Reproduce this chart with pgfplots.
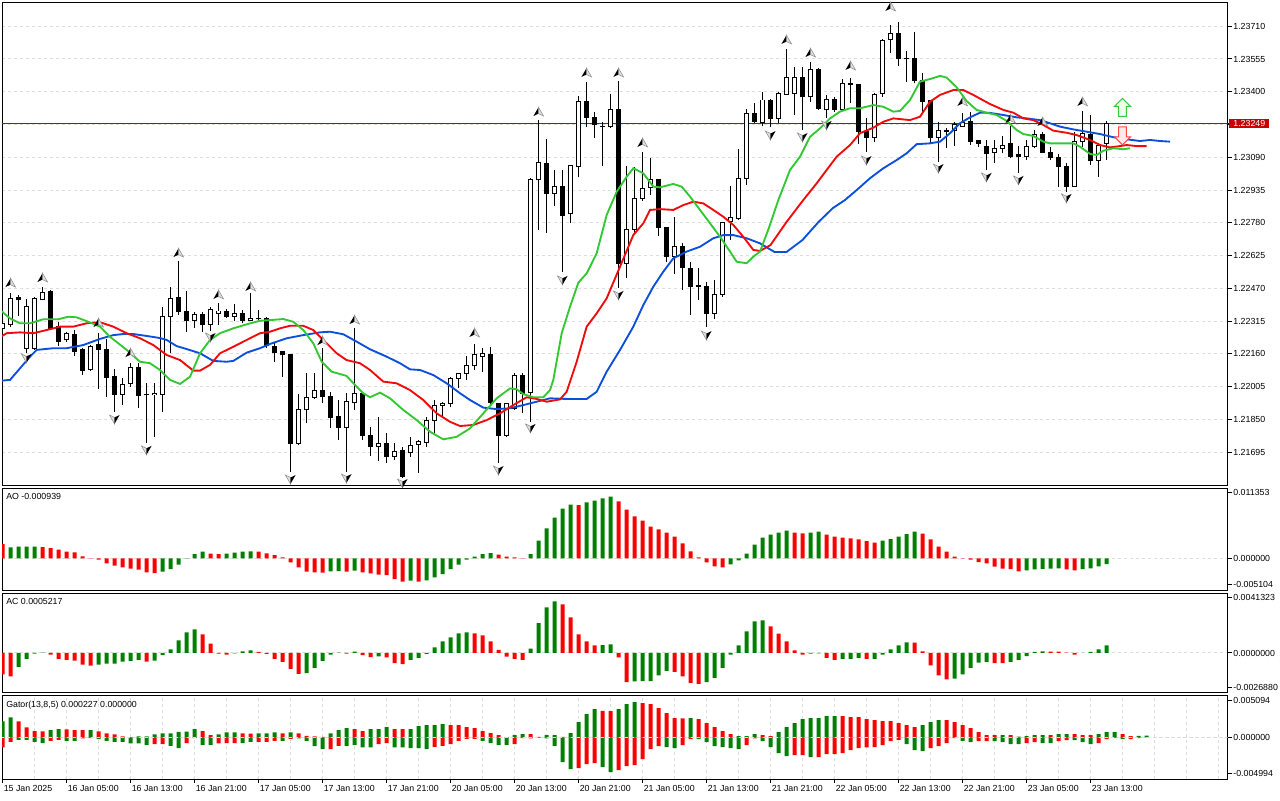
\documentclass[border=0pt]{standalone}
\usepackage{fontspec}
\setmainfont{Liberation Sans}
\usepackage{pgfplots}
\usepackage{pgfplotstable}
\pgfplotsset{compat=1.18}
\definecolor{jaw}{RGB}{10,80,220}
\definecolor{teeth}{RGB}{240,10,10}
\definecolor{lips}{RGB}{50,200,50}
\definecolor{hgreen}{RGB}{0,128,0}
\definecolor{hred}{RGB}{255,0,0}
\definecolor{gridc}{RGB}{221,221,221}
\definecolor{bidred}{RGB}{200,0,0}
\definecolor{sgreen}{RGB}{60,200,60}
\definecolor{sgreenf}{RGB}{235,255,235}
\definecolor{sred}{RGB}{255,70,70}
\definecolor{sredf}{RGB}{255,235,235}

\pgfdeclareplotmark{fup}{%
  \pgfpathmoveto{\pgfqpoint{0pt}{3.6pt}}\pgfpathlineto{\pgfqpoint{-3.8pt}{-3pt}}\pgfpathlineto{\pgfqpoint{0pt}{-1.2pt}}\pgfpathclose
  \pgfsetfillcolor{black}\pgfusepath{fill}%
  \pgfpathmoveto{\pgfqpoint{0pt}{3.6pt}}\pgfpathlineto{\pgfqpoint{3.8pt}{-3pt}}\pgfpathlineto{\pgfqpoint{0pt}{-1.2pt}}\pgfpathclose
  \pgfsetfillcolor{black!12}\pgfsetstrokecolor{black!45}\pgfsetlinewidth{0.4pt}\pgfusepath{fill,stroke}}
\pgfdeclareplotmark{fdown}{%
  \pgfpathmoveto{\pgfqpoint{0pt}{-3.6pt}}\pgfpathlineto{\pgfqpoint{-3.8pt}{3pt}}\pgfpathlineto{\pgfqpoint{0pt}{1.2pt}}\pgfpathclose
  \pgfsetfillcolor{black!12}\pgfsetstrokecolor{black!45}\pgfsetlinewidth{0.4pt}\pgfusepath{fill,stroke}%
  \pgfpathmoveto{\pgfqpoint{0pt}{-3.6pt}}\pgfpathlineto{\pgfqpoint{3.8pt}{3pt}}\pgfpathlineto{\pgfqpoint{0pt}{1.2pt}}\pgfpathclose
  \pgfsetfillcolor{black}\pgfusepath{fill}}
\pgfdeclareplotmark{sigup}{%
  \pgfpathmoveto{\pgfqpoint{0pt}{6.75pt}}\pgfpathlineto{\pgfqpoint{-6pt}{0.75pt}}\pgfpathlineto{\pgfqpoint{-2.9pt}{0.75pt}}%
  \pgfpathlineto{\pgfqpoint{-2.9pt}{-6.75pt}}\pgfpathlineto{\pgfqpoint{2.9pt}{-6.75pt}}\pgfpathlineto{\pgfqpoint{2.9pt}{0.75pt}}%
  \pgfpathlineto{\pgfqpoint{6pt}{0.75pt}}\pgfpathclose\pgfusepathqfillstroke}
\pgfdeclareplotmark{sigdown}{%
  \pgfpathmoveto{\pgfqpoint{0pt}{-6.75pt}}\pgfpathlineto{\pgfqpoint{-6pt}{-0.75pt}}\pgfpathlineto{\pgfqpoint{-2.9pt}{-0.75pt}}%
  \pgfpathlineto{\pgfqpoint{-2.9pt}{6.75pt}}\pgfpathlineto{\pgfqpoint{2.9pt}{6.75pt}}\pgfpathlineto{\pgfqpoint{2.9pt}{-0.75pt}}%
  \pgfpathlineto{\pgfqpoint{6pt}{-0.75pt}}\pgfpathclose\pgfusepathqfillstroke}

\pgfplotstableread{
i o h l c
0 1.22278 1.22306 1.22273 1.22302
1 1.22300 1.22447 1.22289 1.22423
3 1.22187 1.22420 1.22166 1.22383
4 1.22187 1.22431 1.22179 1.22420
5 1.22418 1.22478 1.22415 1.22451
8 1.22226 1.22264 1.22216 1.22258
11 1.22084 1.22202 1.22079 1.22197
15 1.21969 1.22045 1.21918 1.22016
16 1.22021 1.22118 1.22005 1.22095
19 1.21967 1.22021 1.21768 1.21972
20 1.21969 1.22383 1.21884 1.22339
21 1.22339 1.22478 1.22163 1.22423
24 1.22317 1.22360 1.22281 1.22347
26 1.22300 1.22383 1.22268 1.22371
27 1.22352 1.22399 1.22297 1.22363
29 1.22339 1.22396 1.22317 1.22352
31 1.22320 1.22447 1.22317 1.22328
37 1.21737 1.21969 1.21729 1.21895
38 1.21895 1.22068 1.21832 1.21955
39 1.21955 1.22068 1.21947 1.21989
43 1.21811 1.21977 1.21603 1.21937
44 1.21929 1.22281 1.21895 1.21974
47 1.21721 1.21863 1.21655 1.21737
49 1.21674 1.21740 1.21658 1.21697
51 1.21693 1.21768 1.21672 1.21726
52 1.21732 1.21753 1.21598 1.21745
53 1.21740 1.21860 1.21721 1.21844
54 1.21844 1.21942 1.21776 1.21918
55 1.21917 1.21934 1.21855 1.21926
56 1.21926 1.22052 1.21910 1.22045
57 1.22045 1.22071 1.21997 1.22068
58 1.22068 1.22150 1.22037 1.22103
59 1.22103 1.22207 1.22084 1.22155
60 1.22150 1.22187 1.22076 1.22163
63 1.21776 1.21929 1.21768 1.21926
64 1.21903 1.22068 1.21895 1.22056
66 1.21977 1.22991 1.21839 1.22983
67 1.22983 1.23266 1.22746 1.23066
69 1.22920 1.23030 1.22861 1.22951
71 1.22822 1.23054 1.22781 1.23049
72 1.23046 1.23380 1.22995 1.23356
75 1.23235 1.23258 1.23049 1.23238
76 1.23235 1.23389 1.23229 1.23317
78 1.22589 1.23049 1.22518 1.22749
79 1.22749 1.23046 1.22731 1.22896
80 1.22896 1.23116 1.22885 1.22943
81 1.22946 1.23085 1.22912 1.22983
84 1.22620 1.22809 1.22537 1.22667
87 1.22480 1.22565 1.22415 1.22483
89 1.22352 1.22510 1.22324 1.22442
90 1.22442 1.22785 1.22431 1.22781
91 1.22785 1.22954 1.22699 1.22806
92 1.22801 1.23128 1.22793 1.22991
93 1.22991 1.23317 1.22959 1.23298
95 1.23254 1.23400 1.23238 1.23361
97 1.23274 1.23400 1.23251 1.23393
98 1.23389 1.23601 1.23385 1.23468
99 1.23393 1.23518 1.23290 1.23468
101 1.23377 1.23542 1.23353 1.23506
103 1.23314 1.23385 1.23274 1.23364
105 1.23314 1.23459 1.23310 1.23437
109 1.23185 1.23393 1.23164 1.23388
110 1.23393 1.23648 1.23377 1.23642
111 1.23645 1.23716 1.23582 1.23677
117 1.23185 1.23258 1.23069 1.23216
118 1.23214 1.23229 1.23133 1.23218
119 1.23216 1.23258 1.23143 1.23243
120 1.23235 1.23298 1.23231 1.23256
124 1.23112 1.23172 1.23062 1.23133
125 1.23133 1.23191 1.23109 1.23148
128 1.23093 1.23172 1.23077 1.23143
129 1.23143 1.23219 1.23133 1.23200
134 1.22954 1.23211 1.22951 1.23164
135 1.23164 1.23310 1.23140 1.23204
137 1.23077 1.23156 1.22998 1.23148
138 1.23156 1.23263 1.23077 1.23249
}\wc

\pgfplotstableread{
i o h l c
2 1.22426 1.22439 1.22339 1.22418
6 1.22454 1.22462 1.22273 1.22278
7 1.22289 1.22311 1.22197 1.22221
9 1.22253 1.22273 1.22150 1.22171
10 1.22179 1.22187 1.22060 1.22081
12 1.22206 1.22260 1.21993 1.22182
13 1.22183 1.22229 1.21958 1.22049
14 1.22052 1.22087 1.21887 1.21969
17 1.22095 1.22118 1.21903 1.21964
18 1.21969 1.22021 1.21740 1.21966
22 1.22428 1.22601 1.22344 1.22360
23 1.22363 1.22458 1.22265 1.22317
25 1.22347 1.22360 1.22265 1.22297
28 1.22363 1.22372 1.22330 1.22336
30 1.22352 1.22368 1.22305 1.22317
32 1.22328 1.22368 1.22320 1.22326
33 1.22328 1.22336 1.22187 1.22202
34 1.22197 1.22218 1.22120 1.22166
35 1.22171 1.22176 1.22052 1.22155
36 1.22155 1.22160 1.21601 1.21737
40 1.21989 1.22188 1.21926 1.21958
41 1.21961 1.21981 1.21808 1.21860
42 1.21866 1.21942 1.21753 1.21811
45 1.21974 1.21981 1.21753 1.21772
46 1.21776 1.21816 1.21677 1.21721
48 1.21737 1.21785 1.21643 1.21674
50 1.21701 1.21721 1.21572 1.21582
61 1.22155 1.22194 1.21918 1.21929
62 1.21926 1.21929 1.21643 1.21772
65 1.22056 1.22068 1.21879 1.21974
68 1.23062 1.23177 1.22733 1.22920
70 1.22951 1.23030 1.22549 1.22817
73 1.23356 1.23448 1.23235 1.23279
74 1.23279 1.23303 1.23183 1.23246
77 1.23317 1.23452 1.22473 1.22589
82 1.22983 1.22987 1.22718 1.22759
83 1.22759 1.22762 1.22596 1.22620
85 1.22670 1.22686 1.22462 1.22568
86 1.22565 1.22596 1.22344 1.22478
88 1.22481 1.22502 1.22289 1.22352
94 1.23298 1.23348 1.23251 1.23258
96 1.23361 1.23364 1.23235 1.23274
100 1.23468 1.23518 1.23219 1.23377
102 1.23506 1.23511 1.23314 1.23322
104 1.23364 1.23374 1.23306 1.23317
106 1.23440 1.23464 1.23345 1.23434
107 1.23432 1.23437 1.23153 1.23211
108 1.23211 1.23274 1.23116 1.23185
112 1.23677 1.23731 1.23522 1.23558
113 1.23558 1.23594 1.23448 1.23555
114 1.23558 1.23684 1.23440 1.23451
115 1.23451 1.23487 1.23306 1.23353
116 1.23358 1.23361 1.23159 1.23185
121 1.23258 1.23306 1.23148 1.23164
122 1.23169 1.23172 1.23137 1.23156
123 1.23143 1.23172 1.23030 1.23106
126 1.23153 1.23238 1.23085 1.23096
127 1.23101 1.23143 1.23014 1.23093
130 1.23200 1.23211 1.23109 1.23112
131 1.23112 1.23137 1.23077 1.23088
132 1.23090 1.23106 1.22948 1.23046
133 1.23046 1.23062 1.22927 1.22954
136 1.23200 1.23290 1.23054 1.23077
}\bc

\pgfplotsset{
  mt/.style={
    scale only axis, width=919.125pt, xmin=-0.0625, xmax=153.125,
    anchor=north west, clip=true, scaled ticks=false,
    axis line style={line width=0.75pt, black},
    ticklabel style={font=\fontsize{6.6}{8}\selectfont},
    tick style={black, line width=0.75pt},
    major tick length=3pt, minor tick length=0pt,
    tick align=outside,
    ytick pos=right, yticklabel pos=right,
    yticklabel style={anchor=west, inner sep=0pt, xshift=1.2pt},
    major grid style={gridc, line width=0.75pt, dash pattern=on 2.25pt off 2.25pt},
    minor grid style={gridc, line width=0.75pt, dash pattern=on 2.25pt off 2.25pt},
    minor xtick={0,4,...,152}, xminorgrids,
  },
  notx/.style={xtick=\empty},
  hbar/.style={ybar, bar width=0.5, bar shift=0pt, draw=none, forget plot},
}
\tikzset{lbl/.style={anchor=west, inner sep=0pt, font=\fontsize{6.6}{8}\selectfont}}

\begin{document}
\begin{tikzpicture}
\path[use as bounding box] (0pt,0pt) rectangle (960pt,-600pt);

% ---------------- main price panel
\begin{axis}[mt, notx, at={(1.5pt,-1.5pt)}, height=362.25pt,
  ymin=1.21540, ymax=1.238245,
  ytick={1.21695,1.21850,1.22005,1.22160,1.22315,1.22470,1.22625,1.22780,1.22935,1.23090,1.23245,1.23400,1.23555,1.23710},
  yticklabels={1.21695,1.21850,1.22005,1.22160,1.22315,1.22470,1.22625,1.22780,1.22935,1.23090,{},1.23400,1.23555,1.23710},
  ymajorgrids,
  extra y ticks={1.23249}, extra y tick labels={1.23249},
  extra y tick style={grid=none, yticklabel style={fill=bidred, text=white, inner xsep=3pt, inner ysep=1.1pt, xshift=-3pt}},
]
\addplot[bidred, line width=0.75pt, forget plot] coordinates {(-1,1.23249) (160,1.23249)};
% wicks
\addplot[draw=none, mark=none, forget plot, error bars/.cd, y dir=plus, y explicit, error mark=none,
  error bar style={black, line width=0.75pt}]
  table[x=i, y=l, y error plus expr=\thisrow{h}-\thisrow{l}] {\wc};
\addplot[draw=none, mark=none, forget plot, error bars/.cd, y dir=plus, y explicit, error mark=none,
  error bar style={black, line width=0.75pt}]
  table[x=i, y=l, y error plus expr=\thisrow{h}-\thisrow{l}] {\bc};
% black bodies
\addplot[draw=none, mark=none, forget plot, error bars/.cd, y dir=plus, y explicit, error mark=none,
  error bar style={black, line width=3.75pt, line cap=butt}]
  table[x=i, y expr=\thisrow{c}-0.000024, y error plus expr=\thisrow{o}-\thisrow{c}+0.000047] {\bc};
% white bodies
\addplot[draw=none, mark=none, forget plot, error bars/.cd, y dir=plus, y explicit, error mark=none,
  error bar style={black, line width=3.75pt, line cap=butt}]
  table[x=i, y expr=\thisrow{o}-0.000024, y error plus expr=\thisrow{c}-\thisrow{o}+0.000047] {\wc};
\addplot[draw=none, mark=none, forget plot, error bars/.cd, y dir=plus, y explicit, error mark=none,
  error bar style={white, line width=2.25pt, line cap=butt}]
  table[x=i, y expr=\thisrow{o}+0.000024, y error plus expr={max(\thisrow{c}-\thisrow{o}-0.000047,0)}] {\wc};
% alligator
\addplot[jaw, line width=1.4pt, forget plot] coordinates {(-0.31,1.22033)(0.94,1.22037)(2.19,1.22092)(3.44,1.22147)(4.27,1.22179)(6.35,1.22187)(8.02,1.22187)(10.1,1.22202)(12.19,1.22231)(13.85,1.22249)(15.1,1.22254)(16.35,1.22254)(18.02,1.22245)(19.69,1.22235)(20.52,1.22226)(21.77,1.22197)(23.02,1.22183)(24.69,1.22163)(26.35,1.22127)(28.02,1.22123)(28.85,1.22127)(30.52,1.22166)(32.19,1.22187)(33.44,1.22207)(35.52,1.22234)(37.6,1.22249)(39.69,1.22262)(40.94,1.22265)(42.6,1.22253)(44.27,1.22218)(45.94,1.22182)(48.02,1.22147)(49.69,1.22116)(50.94,1.22087)(52.19,1.22084)(53.85,1.22060)(55.52,1.22021)(57.19,1.21974)(58.44,1.21942)(60.1,1.21906)(61.77,1.21899)(63.44,1.21903)(65.1,1.21918)(66.77,1.21934)(68.44,1.21950)(70.52,1.21947)(73.02,1.21947)(74.27,1.21981)(75.52,1.22076)(77.19,1.22179)(78.85,1.22289)(80.1,1.22391)(81.35,1.22478)(82.6,1.22549)(83.85,1.22612)(85.52,1.22644)(87.19,1.22667)(88.85,1.22707)(90.1,1.22722)(91.35,1.22722)(93.02,1.22707)(94.69,1.22683)(96.5,1.22642)(98.0,1.22642)(100.0,1.22699)(102.0,1.22784)(103.8,1.22850)(105.31,1.22888)(106.77,1.22935)(108.44,1.22991)(110.1,1.23038)(111.77,1.23077)(113.02,1.23109)(114.27,1.23152)(115.94,1.23156)(117.19,1.23164)(118.44,1.23204)(119.69,1.23251)(120.94,1.23279)(122.19,1.23301)(123.44,1.23300)(125.1,1.23290)(126.77,1.23279)(128.02,1.23274)(129.69,1.23266)(130.94,1.23251)(132.19,1.23235)(133.85,1.23222)(135.52,1.23211)(137.19,1.23200)(138.85,1.23185)(140.52,1.23175)(142.19,1.23167)(143.44,1.23172)(144.69,1.23167)(145.94,1.23164)};
\addplot[teeth, line width=1.4pt, forget plot] coordinates {(-0.31,1.22239)(0.52,1.22258)(2.19,1.22262)(3.85,1.22258)(5.52,1.22273)(7.19,1.22289)(8.85,1.22289)(10.52,1.22305)(12.19,1.22310)(13.85,1.22289)(15.52,1.22258)(17.19,1.22234)(18.85,1.22202)(20.52,1.22155)(22.19,1.22131)(23.85,1.22081)(24.69,1.22081)(25.94,1.22108)(27.19,1.22163)(28.85,1.22194)(30.52,1.22226)(32.19,1.22258)(33.44,1.22265)(34.69,1.22281)(35.94,1.22293)(37.6,1.22293)(38.85,1.22273)(40.52,1.22210)(41.77,1.22163)(43.0,1.22131)(44.69,1.22116)(45.94,1.22084)(47.6,1.22029)(49.27,1.22021)(50.94,1.21989)(52.6,1.21942)(54.27,1.21879)(55.94,1.21839)(57.19,1.21819)(58.85,1.21824)(60.52,1.21847)(62.19,1.21879)(63.85,1.21918)(65.52,1.21955)(66.77,1.21947)(68.02,1.21934)(69.69,1.21945)(70.52,1.21981)(71.77,1.22123)(73.02,1.22289)(74.27,1.22352)(75.52,1.22423)(77.19,1.22573)(78.85,1.22722)(80.1,1.22778)(80.94,1.22841)(82.19,1.22845)(83.85,1.22841)(85.1,1.22864)(86.35,1.22880)(87.6,1.22872)(88.85,1.22841)(90.1,1.22809)(91.35,1.22770)(92.6,1.22714)(93.85,1.22652)(94.69,1.22647)(96.0,1.22675)(98.0,1.22784)(100.1,1.22888)(101.77,1.22967)(103.02,1.23030)(104.27,1.23093)(105.94,1.23148)(107.19,1.23204)(108.85,1.23230)(110.1,1.23258)(111.35,1.23274)(113.44,1.23266)(114.69,1.23282)(115.94,1.23353)(117.19,1.23385)(118.85,1.23408)(120.1,1.23408)(121.35,1.23385)(122.6,1.23359)(123.44,1.23342)(125.1,1.23314)(126.35,1.23301)(127.6,1.23274)(128.85,1.23266)(130.1,1.23243)(131.35,1.23216)(133.02,1.23206)(134.27,1.23195)(135.94,1.23172)(137.19,1.23148)(138.44,1.23137)(139.69,1.23143)(140.52,1.23148)(141.77,1.23143)(143.02,1.23143)};
\addplot[lips, line width=1.4pt, forget plot] coordinates {(-0.31,1.22368)(0.94,1.22328)(2.19,1.22305)(3.44,1.22305)(5.1,1.22324)(6.98,1.22324)(8.23,1.22336)(9.27,1.22333)(10.73,1.22312)(12.19,1.22289)(13.44,1.22241)(15.52,1.22179)(17.19,1.22123)(18.44,1.22116)(19.69,1.22084)(20.94,1.22037)(22.19,1.22018)(23.44,1.22052)(24.69,1.22163)(25.94,1.22226)(27.19,1.22258)(28.85,1.22281)(30.52,1.22300)(32.19,1.22317)(33.44,1.22320)(35.1,1.22325)(36.35,1.22312)(37.6,1.22273)(38.85,1.22210)(39.9,1.22123)(41.15,1.22076)(43.0,1.22056)(44.27,1.22005)(45.1,1.21974)(45.94,1.21955)(47.19,1.21977)(48.44,1.21950)(50.1,1.21895)(51.77,1.21847)(53.44,1.21792)(55.1,1.21756)(56.77,1.21768)(58.44,1.21808)(60.1,1.21879)(61.77,1.21950)(63.44,1.21997)(64.27,1.21993)(65.1,1.21970)(66.35,1.21955)(67.6,1.21955)(68.44,1.21989)(68.85,1.22037)(69.9,1.22258)(70.94,1.22383)(71.98,1.22497)(73.02,1.22541)(74.27,1.22636)(75.52,1.22817)(76.77,1.22927)(78.02,1.22998)(78.85,1.23038)(80.1,1.23014)(81.35,1.22951)(82.19,1.22948)(83.85,1.22964)(84.9,1.22951)(85.94,1.22904)(87.19,1.22841)(88.44,1.22778)(89.69,1.22714)(90.94,1.22644)(91.77,1.22596)(93.02,1.22589)(93.85,1.22620)(94.69,1.22644)(95.8,1.22756)(96.98,1.22888)(98.44,1.23030)(99.69,1.23093)(100.94,1.23187)(102.19,1.23227)(103.44,1.23274)(104.69,1.23306)(105.94,1.23322)(107.19,1.23322)(108.85,1.23337)(110.1,1.23329)(111.35,1.23306)(112.19,1.23309)(113.44,1.23361)(114.69,1.23448)(115.94,1.23460)(117.19,1.23475)(118.02,1.23467)(119.27,1.23421)(120.52,1.23356)(121.77,1.23314)(123.02,1.23301)(124.27,1.23290)(125.52,1.23262)(126.77,1.23219)(127.6,1.23200)(128.85,1.23191)(130.1,1.23164)(130.94,1.23156)(132.19,1.23156)(133.85,1.23156)(134.69,1.23140)(135.94,1.23106)(136.77,1.23101)(137.6,1.23121)(138.85,1.23133)(140.1,1.23128)(140.94,1.23133)};
% fractals
\addplot[only marks, mark=fup, forget plot] coordinates {(1,1.22495)(5,1.22519)(12,1.22306)(16,1.22164)(22,1.22637)(27,1.22439)(31,1.22477)(40,1.22221)(44,1.22320)(59,1.22259)(67,1.23304)(73,1.23489)(77,1.23489)(80,1.23158)(98,1.23645)(101,1.23583)(106,1.23522)(111,1.23801)(120,1.23352)(126,1.23271)(130,1.23257)(135,1.23352)};
\addplot[only marks, mark=fdown, forget plot] coordinates {(3,1.22141)(14,1.21852)(18,1.21706)(26,1.22240)(36,1.21568)(43,1.21573)(50,1.21549)(62,1.21611)(66,1.21810)(70,1.22510)(77,1.22439)(88,1.22249)(96,1.23195)(100,1.23186)(103,1.23243)(108,1.23077)(117,1.23039)(123,1.22997)(127,1.22983)(133,1.22898)};
% signal arrows
\addplot[only marks, mark=sigup, mark options={draw=sgreen, fill=sgreenf, line width=0.8pt}, forget plot] coordinates {(140,1.23326)};
\addplot[only marks, mark=sigdown, mark options={draw=sred, fill=sredf, line width=0.8pt}, forget plot] coordinates {(140,1.23191)};
\end{axis}

% ---------------- AO
\begin{axis}[mt, notx, at={(1.5pt,-366pt)}, height=76.5pt,
  ymin=-0.005104, ymax=0.011353,
  ytick={0}, yticklabels={0.000000}, ymajorgrids,
  extra y ticks={-0.004184,0.010659}, extra y tick labels={-0.005104,0.011353},
  extra y tick style={grid=none}]
\addplot[hbar, fill=hgreen] coordinates {(1,0.001775)(2,0.001883)(3,0.001890)(4,0.001895)(20,-0.002152)(21,-0.001722)(22,-0.001022)(23,-0.000054)(24,0.000699)(25,0.001076)(28,0.000753)(29,0.000915)(30,0.001076)(31,0.001130)(41,-0.002098)(42,-0.002044)(44,-0.001991)(51,-0.003605)(53,-0.003551)(54,-0.003067)(55,-0.002529)(56,-0.001722)(57,-0.001022)(58,-0.000215)(59,0.000269)(60,0.000699)(61,0.000861)(66,0.000699)(67,0.002851)(68,0.004842)(69,0.006564)(70,0.008016)(71,0.008662)(73,0.009038)(74,0.009307)(75,0.009684)(76,0.009953)(91,-0.000968)(92,-0.000323)(93,0.000753)(94,0.002206)(95,0.003336)(96,0.003820)(97,0.004143)(98,0.004465)(101,0.004143)(102,0.004304)(110,0.002851)(111,0.003120)(112,0.003497)(113,0.003927)(114,0.004304)(128,-0.001937)(129,-0.001775)(130,-0.001700)(131,-0.001668)(132,-0.001614)(135,-0.001722)(136,-0.001614)(137,-0.001291)(138,-0.000939)};
\addplot[hbar, fill=hred] coordinates {(0,0.002313)(5,0.001829)(6,0.001668)(7,0.001399)(8,0.001076)(9,0.000968)(10,0.000323)(11,-0.000054)(12,-0.000215)(13,-0.000807)(14,-0.001184)(15,-0.001453)(16,-0.001668)(17,-0.001829)(18,-0.002260)(19,-0.002367)(26,0.000753)(27,0.000699)(32,0.001076)(33,0.000807)(34,0.000538)(35,0.000161)(36,-0.000646)(37,-0.001453)(38,-0.002152)(39,-0.002260)(40,-0.002313)(43,-0.002152)(45,-0.002260)(46,-0.002421)(47,-0.002636)(48,-0.002690)(49,-0.003336)(50,-0.003766)(52,-0.003766)(62,0.000592)(63,0.000269)(64,0.000161)(65,-0.000054)(72,0.008608)(77,0.009200)(78,0.007855)(79,0.006779)(80,0.006079)(81,0.005111)(82,0.004681)(83,0.004143)(84,0.003497)(85,0.002421)(86,0.001130)(87,0.000161)(88,-0.000646)(89,-0.001291)(90,-0.001453)(99,0.004143)(100,0.004035)(103,0.003820)(104,0.003497)(105,0.003336)(106,0.003228)(107,0.003067)(108,0.002798)(109,0.002529)(115,0.003981)(116,0.003067)(117,0.001883)(118,0.001076)(119,0.000269)(120,-0.000054)(121,-0.000215)(122,-0.000592)(123,-0.000807)(124,-0.001345)(125,-0.001668)(126,-0.001722)(127,-0.002098)(133,-0.001775)(134,-0.001937)};
\node[lbl] at (rel axis cs:0,1) [xshift=3pt, yshift=-6.5pt] {AO -0.000939};
\end{axis}

% ---------------- AC
\begin{axis}[mt, notx, at={(1.5pt,-444.75pt)}, height=74.25pt,
  ymin=-0.0026880, ymax=0.0041323,
  ytick={0}, yticklabels={0.0000000}, ymajorgrids,
  extra y ticks={-0.002392,0.003836}, extra y tick labels={-0.0026880,0.0041323},
  extra y tick style={grid=none}]
\addplot[hbar, fill=hgreen] coordinates {(2,-0.000964)(3,-0.000413)(4,-0.000046)(5,0.000020)(12,-0.000804)(13,-0.000735)(14,-0.000730)(15,-0.000597)(16,-0.000551)(17,-0.000482)(19,-0.000528)(20,-0.000138)(21,0.000253)(22,0.000872)(23,0.001424)(24,0.001630)(29,-0.000030)(30,0.000115)(31,0.000184)(38,-0.001378)(39,-0.001033)(40,-0.000551)(41,-0.000115)(42,0.000023)(44,0.000092)(47,-0.000230)(51,-0.000482)(52,-0.000344)(53,-0.000069)(54,0.000390)(55,0.000804)(56,0.001079)(57,0.001355)(58,0.001424)(66,0.000298)(67,0.002066)(68,0.003146)(69,0.003559)(75,0.000540)(76,0.000597)(79,-0.001952)(80,-0.001940)(81,-0.001929)(82,-0.001538)(83,-0.001240)(88,-0.001998)(89,-0.001722)(90,-0.001033)(91,-0.000115)(92,0.000528)(93,0.001492)(94,0.002181)(95,0.002250)(101,-0.000046)(102,-0.000030)(105,-0.000413)(106,-0.000400)(107,-0.000344)(109,-0.000400)(110,-0.000115)(111,0.000253)(112,0.000528)(113,0.000735)(119,-0.001768)(120,-0.001469)(121,-0.001033)(122,-0.000666)(123,-0.000620)(126,-0.000620)(127,-0.000482)(128,-0.000207)(129,0.000069)(130,0.000115)(135,0.000010)(136,0.000069)(137,0.000253)(138,0.000522)};
\addplot[hbar, fill=hred] coordinates {(0,-0.001469)(1,-0.001607)(6,-0.000115)(7,-0.000413)(8,-0.000482)(9,-0.000528)(10,-0.000804)(11,-0.000872)(18,-0.000597)(25,0.001286)(26,0.000643)(27,-0.000046)(28,-0.000115)(32,0.000069)(33,-0.000069)(34,-0.000413)(35,-0.000620)(36,-0.001102)(37,-0.001446)(43,-0.000046)(45,-0.000138)(46,-0.000276)(48,-0.000298)(49,-0.000689)(50,-0.000758)(59,0.001355)(60,0.001217)(61,0.000804)(62,0.000207)(63,-0.000253)(64,-0.000413)(65,-0.000482)(70,0.003352)(71,0.002457)(72,0.001286)(73,0.000804)(74,0.000528)(77,-0.000298)(78,-0.001998)(84,-0.001300)(85,-0.001607)(86,-0.002066)(87,-0.002135)(96,0.001837)(97,0.001332)(98,0.000804)(99,0.000184)(100,-0.000115)(103,-0.000344)(104,-0.000482)(108,-0.000413)(114,0.000720)(115,0.000115)(116,-0.000850)(117,-0.001538)(118,-0.001814)(124,-0.000689)(125,-0.000700)(131,0.000100)(132,0.000090)(133,0.000023)(134,-0.000115)};
\node[lbl] at (rel axis cs:0,1) [xshift=3pt, yshift=-6.5pt] {AC 0.0005217};
\end{axis}

% ---------------- Gator
\begin{axis}[mt, at={(1.5pt,-521.25pt)}, height=63pt,
  ymin=-0.004994, ymax=0.005094,
  ytick={0}, yticklabels={0.000000}, ymajorgrids,
  extra y ticks={-0.004357,0.004409}, extra y tick labels={-0.004994,0.005094},
  extra y tick style={grid=none},
  xtick={0,8,...,136}, xtick pos=left,
  xticklabels={15 Jan 2025,16 Jan 05:00,16 Jan 13:00,16 Jan 21:00,17 Jan 05:00,17 Jan 13:00,17 Jan 21:00,20 Jan 05:00,20 Jan 13:00,20 Jan 21:00,21 Jan 05:00,21 Jan 13:00,21 Jan 21:00,22 Jan 05:00,22 Jan 13:00,22 Jan 21:00,23 Jan 05:00,23 Jan 13:00},
  xticklabel style={anchor=west, inner sep=0pt, xshift=0.8pt, yshift=-4.2pt}]
\addplot[hbar, fill=hgreen] coordinates {(0,0.001921)(1,0.002402)(6,0.000881)(7,0.001001)(11,0.000890)(17,0.000120)(18,0.000130)(19,0.000360)(20,0.000480)(21,0.000490)(22,0.000681)(23,0.000690)(24,0.001001)(27,0.000360)(28,0.000600)(29,0.000610)(32,0.000480)(33,0.000490)(34,0.000600)(36,0.000600)(41,0.000480)(42,0.000881)(43,0.001121)(46,0.001001)(47,0.001010)(48,0.001241)(51,0.001000)(52,0.001361)(53,0.001481)(54,0.001490)(55,0.001601)(64,0.000280)(65,0.000400)(68,0.000280)(69,0.000290)(71,0.000520)(72,0.001841)(73,0.002802)(74,0.003403)(77,0.003403)(78,0.004003)(79,0.004243)(86,0.002330)(92,0.000160)(93,0.000160)(94,0.000400)(97,0.000640)(98,0.001241)(99,0.001721)(100,0.002202)(101,0.002322)(102,0.002330)(103,0.002562)(104,0.002570)(115,0.001481)(116,0.001841)(117,0.002082)(125,0.000280)(127,0.000100)(128,0.000160)(129,0.000280)(130,0.000290)(132,0.000400)(133,0.000410)(137,0.000400)(138,0.000640)(139,0.000650)(142,0.000200)(143,0.000227)};
\addplot[hbar, fill=hred] coordinates {(2,0.001921)(3,0.001201)(4,0.000761)(5,0.000740)(8,0.000980)(9,0.000881)(10,0.000870)(12,0.000721)(13,0.000480)(14,0.000360)(15,0.000120)(16,0.000040)(25,0.000761)(26,0.000280)(30,0.000480)(31,0.000470)(35,0.000480)(37,0.000480)(38,0.000200)(39,0.000120)(40,0.000080)(44,0.001001)(45,0.000761)(49,0.001001)(50,0.000990)(56,0.001481)(57,0.001470)(58,0.001241)(59,0.001121)(60,0.000761)(61,0.000520)(62,0.000280)(63,0.000040)(66,0.000390)(67,0.000080)(70,0.000080)(75,0.003200)(76,0.003150)(80,0.004123)(81,0.004003)(82,0.003523)(83,0.002922)(84,0.002322)(85,0.002300)(87,0.002202)(88,0.001721)(89,0.001241)(90,0.000761)(91,0.000400)(95,0.000280)(96,0.000160)(105,0.002550)(106,0.002442)(107,0.002430)(108,0.002202)(109,0.002082)(110,0.001961)(111,0.001950)(112,0.001721)(113,0.001481)(114,0.001241)(118,0.002070)(119,0.001841)(120,0.001481)(121,0.001121)(122,0.000640)(123,0.000280)(124,0.000270)(126,0.000270)(131,0.000280)(134,0.000400)(135,0.000280)(136,0.000270)(140,0.000400)(141,0.000160)};
\addplot[hbar, fill=hgreen] coordinates {(2,-0.000280)(3,-0.000280)(4,-0.000520)(5,-0.000681)(8,-0.000400)(9,-0.000400)(12,-0.000200)(13,-0.000400)(14,-0.000520)(15,-0.000520)(16,-0.000721)(17,-0.000721)(18,-0.000881)(21,-0.001001)(22,-0.001281)(25,-0.000881)(26,-0.000881)(30,-0.000681)(31,-0.000520)(35,-0.000400)(37,-0.000120)(38,-0.000400)(39,-0.001041)(40,-0.001401)(43,-0.001001)(44,-0.000881)(45,-0.001201)(46,-0.001201)(49,-0.001201)(50,-0.001201)(51,-0.001281)(52,-0.001281)(53,-0.001401)(60,-0.000400)(61,-0.000681)(62,-0.000881)(63,-0.000881)(68,-0.000120)(69,-0.001001)(70,-0.002962)(71,-0.003803)(75,-0.003563)(76,-0.004163)(83,-0.001161)(84,-0.001281)(87,-0.000200)(88,-0.000560)(89,-0.001041)(90,-0.001161)(91,-0.001281)(92,-0.001401)(95,-0.000440)(96,-0.001161)(97,-0.001881)(98,-0.002242)(101,-0.002362)(113,-0.000801)(114,-0.001521)(115,-0.001641)(120,-0.000400)(121,-0.000560)(124,-0.000440)(125,-0.000560)(126,-0.000801)(127,-0.000801)(130,-0.000681)(131,-0.000681)(134,-0.000320)(135,-0.000560)(136,-0.000801)(139,-0.000050)(140,-0.000200)};
\addplot[hbar, fill=hred] coordinates {(0,-0.001201)(1,-0.000520)(6,-0.000400)(7,-0.000280)(10,-0.000120)(11,-0.000080)(19,-0.000801)(20,-0.000801)(23,-0.000681)(24,-0.000080)(27,-0.000721)(28,-0.000681)(29,-0.000681)(32,-0.000520)(33,-0.000520)(34,-0.000400)(36,-0.000160)(41,-0.001401)(42,-0.001001)(47,-0.000801)(48,-0.000681)(54,-0.001121)(55,-0.001001)(56,-0.000801)(57,-0.000400)(58,-0.000160)(59,-0.000160)(64,-0.000801)(65,-0.000080)(66,-0.000120)(67,-0.000040)(72,-0.003683)(73,-0.003202)(74,-0.003082)(77,-0.003923)(78,-0.003443)(79,-0.003322)(80,-0.002602)(81,-0.001401)(82,-0.001041)(85,-0.000921)(86,-0.000200)(93,-0.000921)(94,-0.000120)(99,-0.002122)(100,-0.002122)(102,-0.002362)(103,-0.002002)(104,-0.002002)(105,-0.001881)(106,-0.001521)(107,-0.001281)(108,-0.001201)(109,-0.001161)(110,-0.000921)(111,-0.000440)(112,-0.000280)(116,-0.001281)(117,-0.001041)(118,-0.000681)(119,-0.000080)(122,-0.000440)(123,-0.000440)(128,-0.000681)(129,-0.000560)(132,-0.000440)(133,-0.000320)(137,-0.000681)(138,-0.000200)(141,-0.000200)(142,-0.000080)};
\addplot[gridc, line width=0.75pt, dash pattern=on 2.25pt off 2.25pt, forget plot] coordinates {(-1,0) (160,0)};
\node[lbl] at (rel axis cs:0,1) [xshift=3pt, yshift=-7.3pt] {Gator(13,8,5) 0.000227 0.000000};
\end{axis}
\end{tikzpicture}
\end{document}
